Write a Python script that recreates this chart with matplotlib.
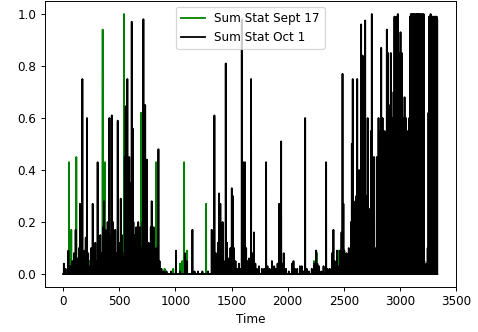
import matplotlib
matplotlib.use("Agg")
import matplotlib.pyplot as plt
import numpy as np

# number of time steps in each series
n_steps = 3335

# Sum Stat Sept 17: non-zero samples (time, value)
sept_t = [51, 71, 116, 235, 351, 372, 541, 693, 827, 903, 915, 980, 1040,
          1060, 1077, 1090, 1104, 1273, 2235, 2254, 2262, 2400, 2455, 2470,
          2510, 2520, 2640, 2700, 3230]
sept_v = [0.43, 0.17, 0.45, 0.05, 0.94, 0.43, 1.0, 0.62, 0.43, 0.02, 0.01,
          0.02, 0.04, 0.05, 0.43, 0.04, 0.09, 0.27, 0.05, 0.09, 0.08, 0.03,
          0.09, 0.05, 0.03, 0.05, 0.06, 0.05, 0.01]

# Sum Stat Oct 1: non-zero samples (time, value)
oct_t = [
    # 0-620
    5, 20, 45, 60, 80, 95, 110, 125, 140, 149, 160, 170, 180, 188, 200, 211,
    222, 235, 248, 262, 272, 285, 296, 306, 318, 330, 342, 353, 363, 375,
    385, 395, 411, 420, 432, 442, 452, 463, 474, 485, 495, 503, 512, 522,
    530, 548, 556, 564, 571, 580, 588, 596, 603, 610, 618, 625, 633,
    # 620-1300
    642, 650, 660, 668, 676, 684, 700, 707, 714, 722, 730, 738, 745, 752,
    760, 770, 780, 788, 796, 805, 815, 830, 848, 858, 875, 895, 920, 960,
    1005, 1040, 1085, 1100, 1151, 1170, 1200, 1240, 1290,
    # 1300-2000
    1323, 1335, 1347, 1360, 1378, 1389, 1400, 1410, 1420, 1430, 1448, 1460,
    1470, 1480, 1490, 1502, 1512, 1522, 1535, 1550, 1565, 1580, 1591, 1598,
    1605, 1613, 1620, 1630, 1640, 1655, 1665, 1674, 1685, 1700, 1712, 1725,
    1745, 1770, 1790, 1808, 1820, 1840, 1860, 1880, 1895, 1910, 1924, 1932,
    1942, 1950, 1965, 1985,
    # 2000-2540
    2010, 2040, 2052, 2065, 2085, 2110, 2125, 2140, 2156, 2170, 2190, 2215,
    2235, 2254, 2265, 2280, 2300, 2320, 2343, 2355, 2375, 2395, 2408, 2420,
    2440, 2455, 2468, 2480, 2489, 2497, 2505, 2515, 2525, 2535,
    # 2540-2790
    2545, 2555, 2565, 2572, 2580, 2588, 2597, 2605, 2612, 2620, 2628, 2636,
    2645, 2655, 2662, 2668, 2675, 2683, 2691, 2698, 2706, 2713, 2720, 2728,
    2736, 2743, 2750, 2757, 2764, 2771, 2778, 2786,
    # 2790-3090
    2795, 2802, 2810, 2817, 2825, 2834, 2840, 2846, 2852, 2858, 2864, 2870,
    2876, 2884, 2890, 2896, 2902, 2908, 2914, 2920, 2926, 2932, 2938, 2944,
    2952, 2958, 2964, 2970, 2976, 2982, 2988, 2994, 3000, 3006, 3012, 3018,
    3024, 3030, 3036, 3042, 3048, 3054, 3060, 3066, 3072, 3078, 3084,
    # 3090-3334
    3092, 3098, 3104, 3110, 3116, 3122, 3128, 3134, 3140, 3146, 3152, 3158,
    3164, 3170, 3176, 3182, 3188, 3194, 3200, 3206, 3212, 3218, 3228, 3238,
    3248, 3255, 3262, 3268, 3274, 3280, 3286, 3292, 3298, 3304, 3310, 3316,
    3322, 3328, 3333,
]
oct_v = [
    0.04, 0.02, 0.09, 0.03, 0.05, 0.08, 0.17, 0.06, 0.10, 0.27, 0.12, 0.75,
    0.05, 0.09, 0.14, 0.60, 0.08, 0.03, 0.10, 0.27, 0.06, 0.12, 0.05, 0.43,
    0.10, 0.15, 0.08, 0.18, 0.28, 0.17, 0.12, 0.20, 0.60, 0.15, 0.61, 0.20,
    0.10, 0.17, 0.08, 0.59, 0.12, 0.05, 0.29, 0.15, 0.08, 0.45, 0.645, 0.40,
    0.75, 0.30, 0.45, 0.20, 0.35, 0.97, 0.56, 0.20, 0.15,
    0.10, 0.18, 0.08, 0.20, 0.12, 0.18, 0.10, 0.20, 0.98, 0.25, 0.65, 0.15,
    0.44, 0.10, 0.12, 0.06, 0.18, 0.28, 0.06, 0.18, 0.05, 0.10, 0.48, 0.05,
    0.02, 0.01, 0.01, 0.01, 0.09, 0.01, 0.08, 0.05, 0.17, 0.01, 0.01, 0.01,
    0.01,
    0.17, 0.05, 0.61, 0.08, 0.12, 0.31, 0.27, 0.08, 0.20, 0.05, 0.81, 0.12,
    0.06, 0.03, 0.10, 0.33, 0.30, 0.10, 0.05, 0.02, 0.04, 0.02, 0.98, 0.08,
    0.43, 0.25, 0.43, 0.10, 0.05, 0.06, 0.03, 0.75, 0.08, 0.16, 0.04, 0.02,
    0.03, 0.02, 0.02, 0.43, 0.03, 0.02, 0.05, 0.03, 0.02, 0.04, 0.27, 0.05,
    0.51, 0.04, 0.08, 0.02,
    0.01, 0.04, 0.05, 0.02, 0.02, 0.03, 0.03, 0.01, 0.60, 0.02, 0.01, 0.02,
    0.04, 0.09, 0.04, 0.03, 0.01, 0.03, 0.43, 0.02, 0.02, 0.08, 0.17, 0.05,
    0.09, 0.03, 0.09, 0.16, 0.77, 0.27, 0.09, 0.04, 0.08, 0.03,
    0.10, 0.05, 0.20, 0.50, 0.75, 0.28, 0.25, 0.10, 0.30, 0.75, 0.10, 0.40,
    0.05, 0.96, 0.60, 0.84, 0.20, 0.50, 0.975, 0.10, 0.30, 0.60, 0.15, 0.25,
    0.05, 0.55, 1.0, 0.45, 0.20, 0.45, 0.10, 0.02,
    0.45, 0.30, 0.60, 0.45, 0.55, 0.87, 0.45, 0.60, 0.30, 0.45, 0.55, 0.50,
    0.40, 0.94, 0.60, 0.85, 0.50, 0.30, 0.65, 0.85, 0.45, 0.60, 0.55, 0.70,
    0.99, 0.55, 0.70, 0.99, 0.45, 1.0, 0.85, 0.60, 0.48, 0.93, 0.70, 0.85,
    0.60, 0.55, 0.60, 0.68, 0.55, 0.60, 0.50, 0.45, 0.55, 0.50, 0.60,
    0.99, 1.0, 0.98, 1.0, 0.99, 1.0, 1.0, 0.99, 1.0, 0.98, 1.0, 1.0, 0.99,
    1.0, 1.0, 0.99, 1.0, 0.98, 1.0, 0.99, 1.0, 0.05, 0.02, 0.04, 0.10, 0.62,
    0.99, 0.98, 1.0, 0.99, 0.98, 0.99, 0.98, 0.99, 0.98, 0.99, 0.98, 0.99,
    0.98,
]

time = np.arange(n_steps)
sept = np.zeros(n_steps)
sept[sept_t] = sept_v
octo = np.zeros(n_steps)
octo[oct_t] = oct_v

# notebook-style figure, upscaled ~1.2x
dpi = 86.4
fig = plt.figure(figsize=(478 / dpi, 332 / dpi), dpi=dpi)
ax = fig.add_axes([0.0933, 0.1355, 0.8607, 0.8615])
ax.plot(time, sept, color="green", linewidth=1.5, label="Sum Stat Sept 17")
ax.plot(time, octo, color="black", linewidth=1.5, label="Sum Stat Oct 1")
ax.set_xticks([0, 500, 1000, 1500, 2000, 2500, 3000, 3500])
ax.set_xlabel("Time")
ax.legend(loc="upper center")
fig.savefig("out.png", dpi=dpi)
